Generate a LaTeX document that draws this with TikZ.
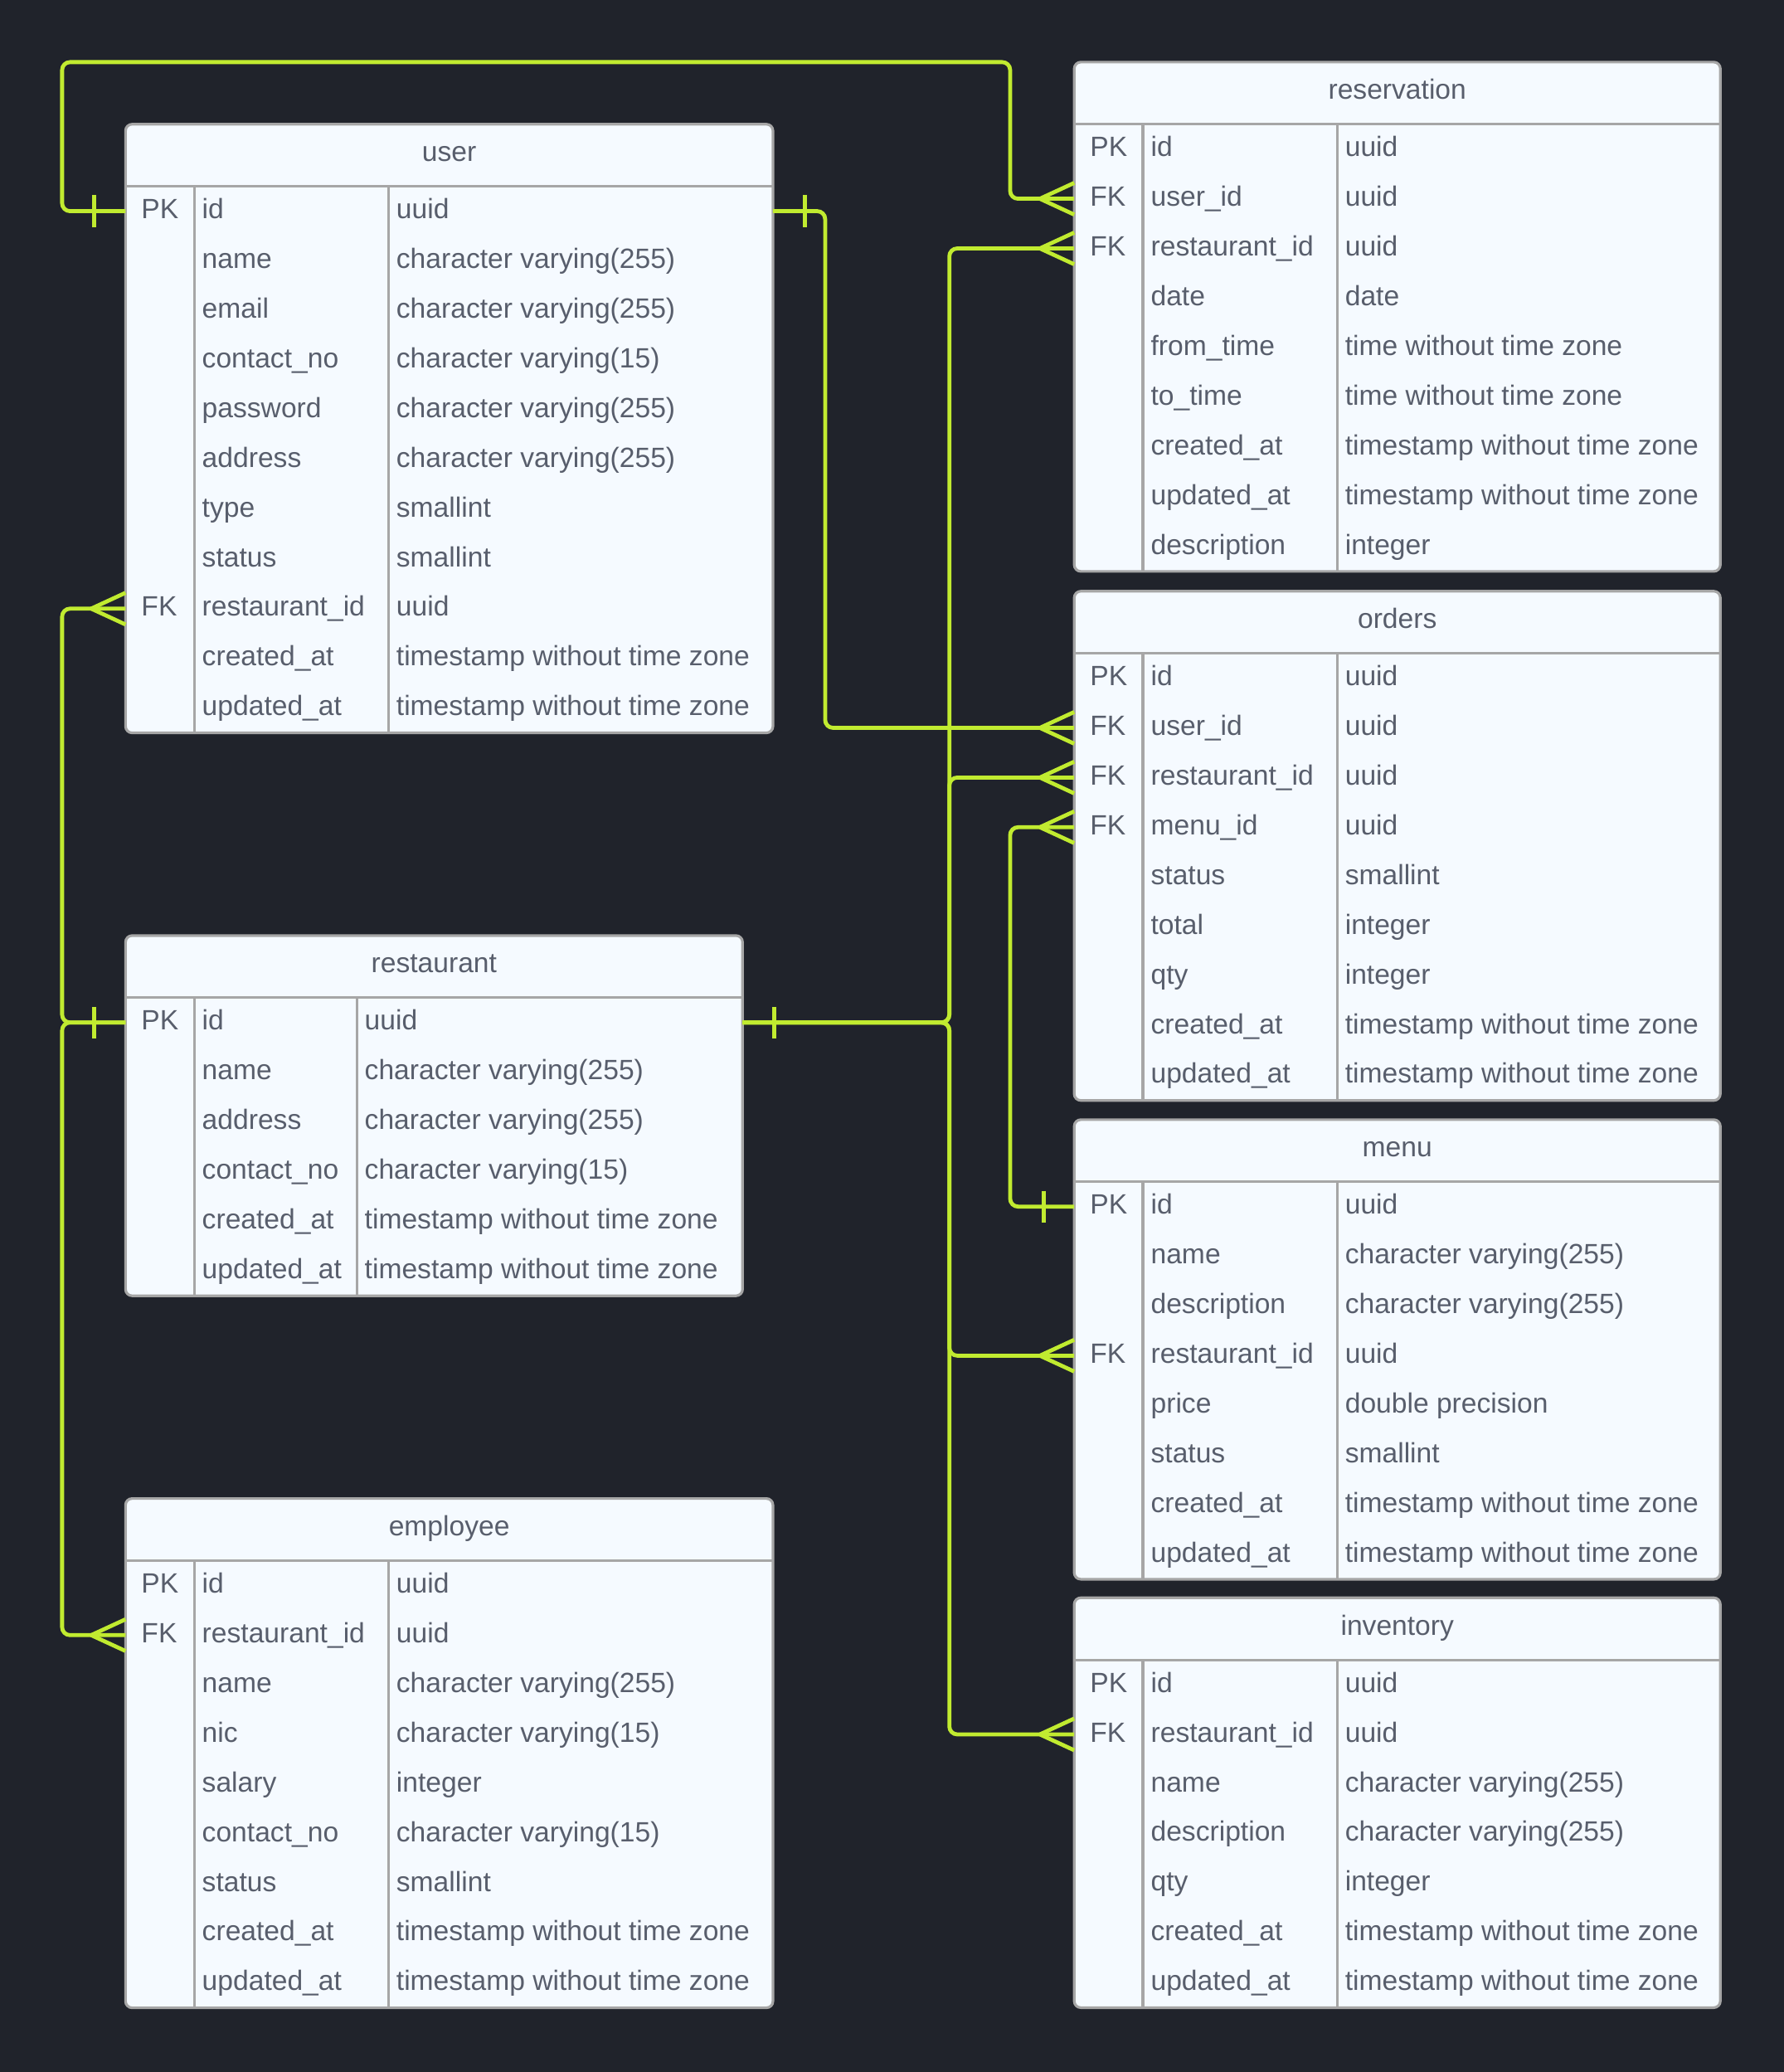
\documentclass[tikz,border=0pt]{standalone}
\usepackage{fontspec}
\setmainfont{Liberation Sans}
\usepackage{tikz}
\definecolor{canvascolor}{HTML}{20232B}
\definecolor{tablefillcolor}{HTML}{F5FAFF}
\definecolor{tablelinecolor}{HTML}{A6A6A6}
\definecolor{fieldtextcolor}{HTML}{585E6C}
\definecolor{relationcolor}{HTML}{C1EB30}

\begin{document}
\begin{tikzpicture}[
	x=1pt, y=-1pt,
	tablebox/.style={draw=tablelinecolor, fill=tablefillcolor, line width=2pt, rounded corners=5pt},
	colline/.style={draw=tablelinecolor, line width=2pt},
	titlebox/.style={inner sep=0pt, minimum height=47pt, text height=13.5pt, text depth=4pt},
	rowbox/.style={inner sep=0pt, minimum height=37.6pt},
	celltext/.style={inner sep=0pt, anchor=west, text height=15.5pt, text depth=4pt},
	relline/.style={draw=relationcolor, line width=3pt, rounded corners=6pt},
	every node/.style={outer sep=0pt, text=fieldtextcolor, font=\fontsize{21.1}{25}\selectfont},
]
\fill[canvascolor] (0,0) rectangle (1350,1568);
% \entity{name}{top left}{type column}{width}{rows}
\def\entity#1#2#3#4#5{
	\draw[tablebox] (#2) rectangle ++(#4, 47+37.6*#5);
	\node[titlebox, minimum width=#4pt, anchor=north west] (#1) at (#2) {#1};
	\draw[colline] (#1.south west) -- (#1.south east);
	\draw[colline] ([xshift=52pt]#1.south west) -- ++(0, 37.6*#5);
	\draw[colline] ([xshift=#3pt]#1.south west) -- ++(0, 37.6*#5);
	\coordinate (last) at (#1.south west);
	\def\typecol{#3}
	\def\entw{#4}
}
% \field{node}{key}{name}{type}, placed under the last row.
\def\field#1#2#3#4{
	\node[rowbox, minimum width=\entw pt, anchor=north west] (#1) at (last) {};
	\node[celltext] (#1-k) at ([xshift=12pt]#1.west) {#2};
	\node[celltext] (#1-n) at ([xshift=58pt]#1.west) {#3};
	\node[celltext] (#1-t) at ([xshift={\typecol pt+6pt}]#1.west) {#4};
	\coordinate (last) at (#1.south west);
}
% Bar on the one side, input 2: offset from the table edge.
\def\one#1#2{
	\draw[relline] ([xshift=#2pt]#1) ++(0,-12) -- ++(0,24);
}
% Crow's foot on the many side (west edges only).
\def\many#1{
	\draw[relline] ([xshift=-26pt]#1) -- ++(26,-12) ([xshift=-26pt]#1) -- ++(26,12);
}
	\entity{user}{95,94}{199}{490}{11}
	\field{user-id}{PK}{id}{uuid}
	\field{user-name}{}{name}{character varying(255)}
	\field{user-email}{}{email}{character varying(255)}
	\field{user-contact}{}{contact\_no}{character varying(15)}
	\field{user-pass}{}{password}{character varying(255)}
	\field{user-addr}{}{address}{character varying(255)}
	\field{user-type}{}{type}{smallint}
	\field{user-status}{}{status}{smallint}
	\field{user-rid}{FK}{restaurant\_id}{uuid}
	\field{user-created}{}{created\_at}{timestamp without time zone}
	\field{user-upd}{}{updated\_at}{timestamp without time zone}

	\entity{restaurant}{[yshift=-153.4pt]user-upd.south west}{175}{467}{6}
	\field{rest-id}{PK}{id}{uuid}
	\field{rest-name}{}{name}{character varying(255)}
	\field{rest-addr}{}{address}{character varying(255)}
	\field{rest-contact}{}{contact\_no}{character varying(15)}
	\field{rest-created}{}{created\_at}{timestamp without time zone}
	\field{rest-upd}{}{updated\_at}{timestamp without time zone}

	\entity{employee}{[yshift=-153.4pt]rest-upd.south west}{199}{490}{9}
	\field{emp-id}{PK}{id}{uuid}
	\field{emp-rid}{FK}{restaurant\_id}{uuid}
	\field{emp-name}{}{name}{character varying(255)}
	\field{emp-nic}{}{nic}{character varying(15)}
	\field{emp-salary}{}{salary}{integer}
	\field{emp-contact}{}{contact\_no}{character varying(15)}
	\field{emp-status}{}{status}{smallint}
	\field{emp-created}{}{created\_at}{timestamp without time zone}
	\field{emp-upd}{}{updated\_at}{timestamp without time zone}

	\entity{reservation}{813,47}{199}{489}{9}
	\field{res-id}{PK}{id}{uuid}
	\field{res-user}{FK}{user\_id}{uuid}
	\field{res-rid}{FK}{restaurant\_id}{uuid}
	\field{res-date}{}{date}{date}
	\field{res-from}{}{from\_time}{time without time zone}
	\field{res-to}{}{to\_time}{time without time zone}
	\field{res-created}{}{created\_at}{timestamp without time zone}
	\field{res-upd}{}{updated\_at}{timestamp without time zone}
	\field{res-desc}{}{description}{integer}

	\entity{orders}{[yshift=-15pt]res-desc.south west}{199}{489}{9}
	\field{orders-id}{PK}{id}{uuid}
	\field{orders-user}{FK}{user\_id}{uuid}
	\field{orders-rid}{FK}{restaurant\_id}{uuid}
	\field{orders-menu}{FK}{menu\_id}{uuid}
	\field{orders-status}{}{status}{smallint}
	\field{orders-total}{}{total}{integer}
	\field{orders-qty}{}{qty}{integer}
	\field{orders-created}{}{created\_at}{timestamp without time zone}
	\field{orders-upd}{}{updated\_at}{timestamp without time zone}

	\entity{menu}{[yshift=-14.5pt]orders-upd.south west}{199}{489}{8}
	\field{menu-id}{PK}{id}{uuid}
	\field{menu-name}{}{name}{character varying(255)}
	\field{menu-desc}{}{description}{character varying(255)}
	\field{menu-rid}{FK}{restaurant\_id}{uuid}
	\field{menu-price}{}{price}{double precision}
	\field{menu-status}{}{status}{smallint}
	\field{menu-created}{}{created\_at}{timestamp without time zone}
	\field{menu-upd}{}{updated\_at}{timestamp without time zone}

	\entity{inventory}{[yshift=-14pt]menu-upd.south west}{199}{489}{7}
	\field{inv-id}{PK}{id}{uuid}
	\field{inv-rid}{FK}{restaurant\_id}{uuid}
	\field{inv-name}{}{name}{character varying(255)}
	\field{inv-desc}{}{description}{character varying(255)}
	\field{inv-qty}{}{qty}{integer}
	\field{inv-created}{}{created\_at}{timestamp without time zone}
	\field{inv-upd}{}{updated\_at}{timestamp without time zone}

	% lanes of the connectors
	\coordinate (westlane) at (47,0);
	\coordinate (userlane) at (624.5,0);
	\coordinate (eastlane) at (718.5,0);
	\coordinate (menulane) at (764.5,0);

	\draw[relline] (user-id.west) -| (westlane |- reservation.north)
		-| (menulane |- res-user) -- (res-user.west);
	\draw[relline] (user-id.east) -| (userlane |- orders-user) -- (orders-user.west);
	\draw[relline] (rest-id.west) -| (westlane |- user-rid) -- (user-rid.west);
	\draw[relline] (rest-id.west) -| (westlane |- emp-rid) -- (emp-rid.west);
	\foreach \t in {res-rid, orders-rid, menu-rid, inv-rid}
		\draw[relline] (rest-id.east) -| (eastlane |- \t) -- (\t.west);
	\draw[relline] (menu-id.west) -| (menulane |- orders-menu) -- (orders-menu.west);

	\one{user-id.west}{-24}
	\one{user-id.east}{24}
	\one{rest-id.west}{-24}
	\one{rest-id.east}{24}
	\one{menu-id.west}{-23}
	\foreach \t in {res-user, res-rid, orders-user, orders-rid, orders-menu,
		user-rid, emp-rid, menu-rid, inv-rid}
		\many{\t.west};
\end{tikzpicture}
\end{document}
